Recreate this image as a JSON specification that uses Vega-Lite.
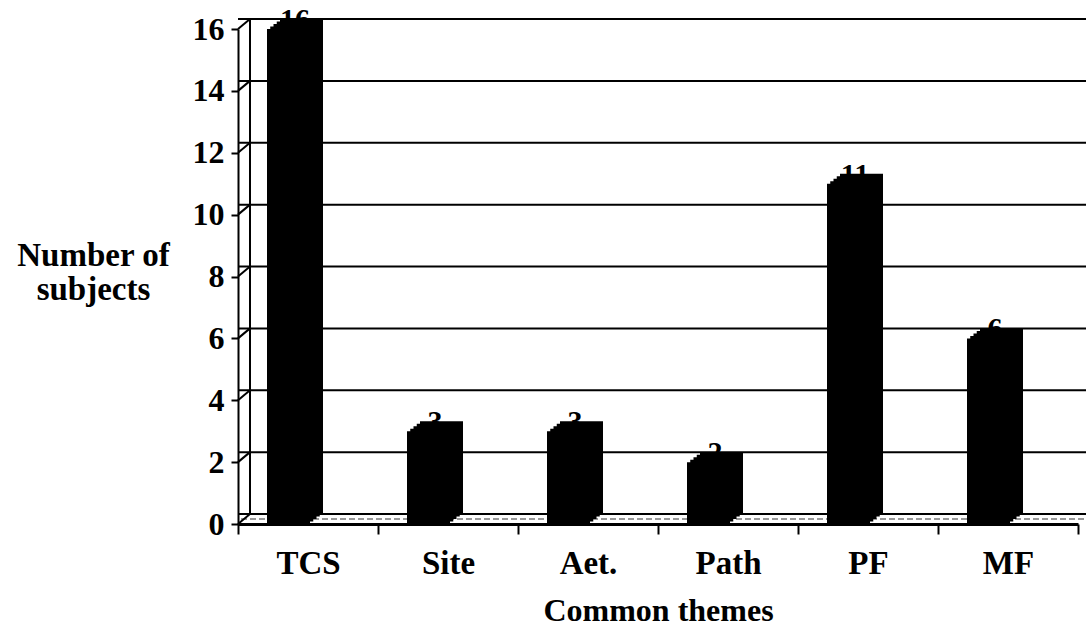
{
  "$schema": "https://vega.github.io/schema/vega-lite/v6.json",
  "width": 840,
  "height": 495,
  "autosize": "none",
  "padding": {"left": 238, "top": 29, "right": 8, "bottom": 111},
  "background": "white",
  "config": {"view": {"stroke": null}, "font": "Liberation Serif"},
  "datasets": {
    "bars": [
      {"theme": "TCS", "count": 16},
      {"theme": "Site", "count": 3},
      {"theme": "Aet.", "count": 3},
      {"theme": "Path", "count": 2},
      {"theme": "PF", "count": 11},
      {"theme": "MF", "count": 6}
    ],
    "grid": [
      {"v": 0}, {"v": 2}, {"v": 4}, {"v": 6}, {"v": 8},
      {"v": 10}, {"v": 12}, {"v": 14}, {"v": 16}
    ],
    "wall": [{"a": 0, "b": 16}]
  },
  "layer": [
    {
      "data": {"name": "grid"},
      "mark": {"type": "rule", "color": "black", "strokeWidth": 2, "yOffset": -10, "xOffset": 12, "x2Offset": 12},
      "encoding": {
        "y": {
          "field": "v", "type": "quantitative",
          "scale": {"domain": [0, 16], "nice": false, "zero": true},
          "axis": {
            "title": ["Number of", "subjects"],
            "titleAngle": 0, "titleAlign": "center", "titleBaseline": "alphabetic",
            "titleX": -145, "titleY": 236, "titleFontSize": 33, "titleFont": "Liberation Serif",
            "titleFontWeight": "bold", "titleLineHeight": 34, "titleColor": "black",
            "values": [0, 2, 4, 6, 8, 10, 12, 14, 16],
            "labelFontSize": 32, "labelFont": "Liberation Serif", "labelFontWeight": "bold", "labelColor": "black",
            "labelPadding": 7, "tickColor": "black", "tickSize": 7, "tickWidth": 2,
            "domainColor": "black", "domainWidth": 2, "grid": false, "zindex": 1
          }
        }
      }
    },
    {
      "data": {"name": "wall"},
      "mark": {"type": "rule", "color": "#999999", "strokeWidth": 2, "strokeDash": [6, 3], "yOffset": -5, "xOffset": 6, "x2Offset": 6},
      "encoding": {"y": {"field": "a", "type": "quantitative"}}
    },
    {
      "data": {"name": "grid"},
      "mark": {"type": "rule", "color": "black", "strokeWidth": 2, "y2Offset": -10},
      "encoding": {
        "x": {"value": 0},
        "x2": {"value": 12},
        "y": {"field": "v", "type": "quantitative"},
        "y2": {"field": "v"}
      }
    },
    {
      "data": {"name": "wall"},
      "mark": {"type": "rule", "color": "black", "strokeWidth": 2, "yOffset": -10, "y2Offset": -10},
      "encoding": {
        "x": {"value": 12},
        "y": {"field": "a", "type": "quantitative"},
        "y2": {"field": "b"}
      }
    },
    {
      "data": {"name": "bars"},
      "mark": {"type": "text", "fontSize": 30, "fontWeight": "bold", "font": "Liberation Serif", "baseline": "alphabetic", "color": "black", "xOffset": -13},
      "encoding": {
        "x": {"field": "theme", "type": "nominal", "sort": null},
        "y": {"field": "count", "type": "quantitative"},
        "text": {"field": "count", "type": "quantitative"}
      }
    },
    {
      "data": {"name": "bars"},
      "mark": {"type": "bar", "color": "black", "width": 43, "xOffset": -6.5, "yOffset": -10, "y2Offset": -10},
      "encoding": {
        "x": {"field": "theme", "type": "nominal", "sort": null},
        "y": {"field": "count", "type": "quantitative"}
      }
    },
    {
      "data": {"name": "bars"},
      "mark": {"type": "bar", "color": "black", "width": 43, "xOffset": -9.75, "yOffset": -7.5, "y2Offset": -7.5},
      "encoding": {
        "x": {"field": "theme", "type": "nominal", "sort": null},
        "y": {"field": "count", "type": "quantitative"}
      }
    },
    {
      "data": {"name": "bars"},
      "mark": {"type": "bar", "color": "black", "width": 43, "xOffset": -13, "yOffset": -5, "y2Offset": -5},
      "encoding": {
        "x": {"field": "theme", "type": "nominal", "sort": null},
        "y": {"field": "count", "type": "quantitative"}
      }
    },
    {
      "data": {"name": "bars"},
      "mark": {"type": "bar", "color": "black", "width": 43, "xOffset": -16.25, "yOffset": -2.5, "y2Offset": -2.5},
      "encoding": {
        "x": {"field": "theme", "type": "nominal", "sort": null},
        "y": {"field": "count", "type": "quantitative"}
      }
    },
    {
      "data": {"name": "bars"},
      "mark": {"type": "bar", "color": "black", "width": 43, "xOffset": -19.5},
      "encoding": {
        "x": {
          "field": "theme", "type": "nominal", "sort": null,
          "scale": {"paddingInner": 0, "paddingOuter": 0},
          "axis": {
            "title": "Common themes", "titleFontSize": 32, "titleFont": "Liberation Serif",
            "titleFontWeight": "bold", "titleColor": "black", "titlePadding": 15,
            "labelAngle": 0, "labelFontSize": 33, "labelFont": "Liberation Serif",
            "labelFontWeight": "bold", "labelColor": "black", "labelPadding": 29,
            "bandPosition": 0.5, "labelAlign": "center",
            "tickBand": "extent", "tickSize": 10, "tickWidth": 2, "tickColor": "black",
            "domainColor": "black", "domainWidth": 3, "grid": false, "zindex": 1
          }
        },
        "y": {"field": "count", "type": "quantitative"}
      }
    }
  ]
}
